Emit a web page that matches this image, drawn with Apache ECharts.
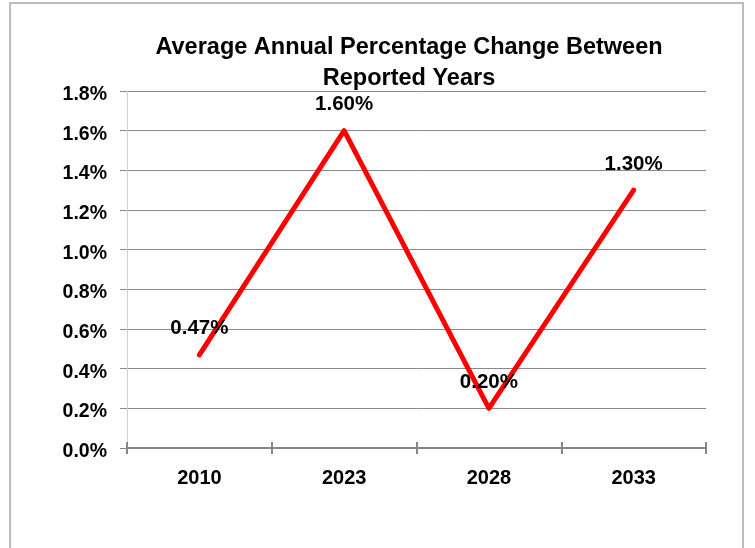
<!DOCTYPE html>
<html>
<head>
<meta charset="utf-8">
<script src="https://cdn.jsdelivr.net/npm/echarts@6/dist/echarts.min.js"></script>
<style>
html,body{margin:0;padding:0;background:#fff;}
#c{width:755px;height:548px;}
</style>
</head>
<body>
<div id="c"></div>
<script>
var titleText = 'Average Annual Percentage Change Between\nReported Years';
var categories = ['2010', '2023', '2028', '2033'];
var values = [0.47, 1.60, 0.20, 1.30];
var yMin = 0, yMax = 1.8, yStep = 0.2;

var FONT = 'Liberation Sans';
var chart = echarts.init(document.getElementById('c'));
chart.setOption({
  animation: false,
  backgroundColor: '#fff',
  graphic: [{
    type: 'rect',
    shape: {x: 10, y: 3, width: 733, height: 560},
    style: {fill: 'none', stroke: '#a6a6a6', lineWidth: 1.5},
    silent: true, z: -10
  }],
  title: {
    text: titleText,
    left: 404, top: 27, textAlign: 'center',
    textStyle: {fontFamily: FONT, fontWeight: 'bold', fontSize: 23.5, color: '#000', lineHeight: 31}
  },
  grid: {left: 127, right: 49, top: 91, bottom: 100, containLabel: false},
  xAxis: [{
    type: 'category', data: categories, boundaryGap: true,
    axisLine: {show: true, lineStyle: {color: '#868686', width: 2}},
    axisTick: {show: true, inside: false, length: 6, alignWithLabel: false, lineStyle: {color: '#868686', width: 2}},
    axisLabel: {margin: 20, fontFamily: FONT, fontWeight: 'bold', fontSize: 20, color: '#000'},
    splitLine: {show: false}
  }, {
    type: 'category', data: categories, boundaryGap: true, position: 'bottom',
    axisLine: {show: false},
    axisTick: {show: true, inside: true, length: 6, alignWithLabel: false, lineStyle: {color: '#868686', width: 2}},
    axisLabel: {show: false},
    splitLine: {show: false}
  }],
  yAxis: {
    type: 'value', min: yMin, max: yMax, interval: yStep,
    axisLine: {show: true, lineStyle: {color: '#d0d0d0', width: 1}},
    axisTick: {show: true, length: 7, lineStyle: {color: '#888'}},
    axisLabel: {margin: 20, color: '#000',
      formatter: function (v) { return '{a|' + v.toFixed(1) + '%}'; },
      rich: {a: {fontFamily: FONT, fontWeight: 'bold', fontSize: 19.5, color: '#000', padding: [7, 0, 0, 0]}}},
    splitLine: {show: true, lineStyle: {color: '#888', width: 1}}
  },
  series: [{
    type: 'line', data: values, xAxisIndex: 0,
    showSymbol: true, symbol: 'circle', symbolSize: 1,
    itemStyle: {color: '#ff0000'},
    lineStyle: {color: '#ff0000', width: 5, cap: 'round', join: 'round'},
    label: {show: true, position: 'top', distance: 15, fontFamily: FONT, fontWeight: 'bold', fontSize: 20.5, color: '#000',
      formatter: function (p) { return p.value.toFixed(2) + '%'; }},
    z: 5
  }]
});
</script>
</body>
</html>
